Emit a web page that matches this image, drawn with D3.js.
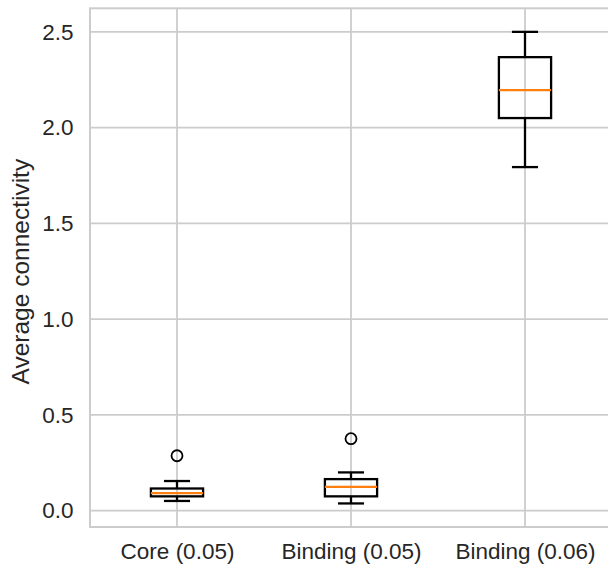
<!DOCTYPE html>
<html>
<head>
<meta charset="utf-8">
<script src="https://cdn.jsdelivr.net/npm/d3@7"></script>
<style>
  html, body { margin: 0; padding: 0; background: #fff; }
  svg { display: block; }
  text { font-family: "Liberation Sans", Arial, Helvetica, sans-serif; fill: #262626; }
</style>
</head>
<body>
<svg id="chart" width="608" height="566"></svg>
<script>
// Box summaries per group
const categories   = ["Core (0.05)", "Binding (0.05)", "Binding (0.06)"];
const whiskerLow   = [0.051, 0.038, 1.794];
const q1           = [0.075, 0.075, 2.050];
const median       = [0.092, 0.124, 2.196];
const q3           = [0.116, 0.165, 2.368];
const whiskerHigh  = [0.155, 0.200, 2.500];
const outliers     = [[0.287], [0.376], []];
const yTicks       = [0.0, 0.5, 1.0, 1.5, 2.0, 2.5];

const svg = d3.select("#chart");
const plot = { left: 90, right: 612, top: 8.3, bottom: 527 };
const tickFont = 22.5, labelFont = 24.5;

const x = d3.scaleLinear().domain([0.5, 3.5]).range([plot.left, plot.right]);
const y = d3.scaleLinear().domain([-0.085, 2.623]).range([plot.bottom, plot.top]);

const gridColor = "#cccccc";
const boxHalf = (x(1.15) - x(1));      // box width 0.3
const capHalf = (x(1.075) - x(1));     // caps half of box width

// Gridlines
const grid = svg.append("g");
grid.selectAll(".hg").data(yTicks).join("line")
  .attr("x1", plot.left).attr("x2", plot.right)
  .attr("y1", d => y(d)).attr("y2", d => y(d))
  .attr("stroke", gridColor).attr("stroke-width", 1.8);
grid.selectAll(".vg").data(categories).join("line")
  .attr("x1", (d, i) => x(i + 1)).attr("x2", (d, i) => x(i + 1))
  .attr("y1", plot.top).attr("y2", plot.bottom)
  .attr("stroke", gridColor).attr("stroke-width", 1.8);

// Axes (labels only; frame drawn separately)
const yAxis = d3.axisLeft(y).tickValues(yTicks).tickFormat(d3.format(".1f")).tickSize(0).tickPadding(16.5);
svg.append("g").attr("transform", `translate(${plot.left},0)`).call(yAxis)
  .call(g => g.select(".domain").remove())
  .call(g => g.selectAll("text").attr("font-size", tickFont).attr("fill", "#262626")
    .attr("font-family", '"Liberation Sans", Arial, sans-serif'));

const xAxis = d3.axisBottom(x).tickValues([1, 2, 3]).tickFormat((d) => categories[d - 1]).tickSize(0).tickPadding(16);
svg.append("g").attr("transform", `translate(0,${plot.bottom})`).call(xAxis)
  .call(g => g.select(".domain").remove())
  .call(g => g.selectAll("text").attr("font-size", tickFont).attr("fill", "#262626")
    .attr("font-family", '"Liberation Sans", Arial, sans-serif'));

// Frame
svg.append("rect")
  .attr("x", plot.left).attr("y", plot.top)
  .attr("width", plot.right - plot.left).attr("height", plot.bottom - plot.top)
  .attr("fill", "none").attr("stroke", gridColor).attr("stroke-width", 2);

// Y label
svg.append("text")
  .attr("transform", `translate(29,${(plot.top + plot.bottom) / 2 + 4}) rotate(-90)`)
  .attr("text-anchor", "middle")
  .attr("font-size", labelFont)
  .text("Average connectivity");

// Boxes
const boxes = svg.append("g");
categories.forEach((c, i) => {
  const cx = x(i + 1);
  const g = boxes.append("g");
  const stroke = "#000";
  const sw = 2.3;
  // whiskers
  g.append("line").attr("x1", cx).attr("x2", cx).attr("y1", y(whiskerLow[i])).attr("y2", y(q1[i]))
    .attr("stroke", stroke).attr("stroke-width", sw);
  g.append("line").attr("x1", cx).attr("x2", cx).attr("y1", y(q3[i])).attr("y2", y(whiskerHigh[i]))
    .attr("stroke", stroke).attr("stroke-width", sw);
  // caps
  [whiskerLow[i], whiskerHigh[i]].forEach(v => {
    g.append("line").attr("x1", cx - capHalf).attr("x2", cx + capHalf)
      .attr("y1", y(v)).attr("y2", y(v))
      .attr("stroke", stroke).attr("stroke-width", sw);
  });
  // box
  g.append("rect").attr("x", cx - boxHalf).attr("y", y(q3[i]))
    .attr("width", 2 * boxHalf).attr("height", y(q1[i]) - y(q3[i]))
    .attr("fill", "none").attr("stroke", stroke).attr("stroke-width", sw);
  // median
  g.append("line").attr("x1", cx - boxHalf).attr("x2", cx + boxHalf)
    .attr("y1", y(median[i])).attr("y2", y(median[i]))
    .attr("stroke", "#ff7f0e").attr("stroke-width", sw);
  // fliers
  g.selectAll("circle").data(outliers[i]).join("circle")
    .attr("cx", cx).attr("cy", d => y(d)).attr("r", 5.5)
    .attr("fill", "none").attr("stroke", stroke).attr("stroke-width", 1.8);
});
</script>
</body>
</html>
